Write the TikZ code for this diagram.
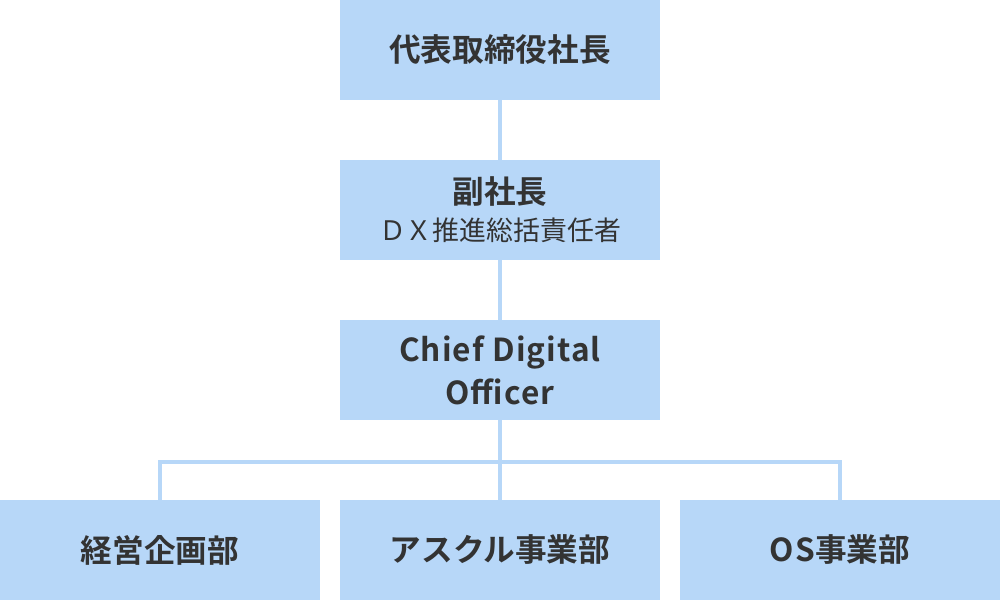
\documentclass[tikz,border=0pt]{standalone}
\usepackage{fontspec}
\setmainfont{Noto Sans CJK JP}[BoldFont={Noto Sans CJK JP Bold}]
\newfontfamily\latinwide{Noto Sans CJK JP}[BoldFont={Noto Sans CJK JP Bold}, LetterSpace=3.5]
\definecolor{boxblue}{HTML}{B7D7F8}
\definecolor{textgray}{HTML}{333333}
\tikzset{
  orgbox/.style={fill=boxblue, minimum width=6.4cm, minimum height=2cm,
    inner sep=0pt, outer sep=0pt, align=center, text=textgray,
    font=\fontsize{18}{23}\selectfont\bfseries},
  orgline/.style={draw=boxblue, line width=2.3pt}
}
\begin{document}
\begin{tikzpicture}
    \useasboundingbox (0,0) rectangle (20,12);

    % top rows
    \node[orgbox] (ceo) at (10,11) {代表取締役社長};
    \node[orgbox] (vp) at (10,7.8) {副社長\\[-2pt]{\fontsize{15.3}{19}\selectfont\mdseries ＤＸ推進総括責任者}};
    \node[orgbox, font=\fontsize{18}{24.5}\selectfont\latinwide\bfseries] (cdo) at (10,4.6) {Chief Digital\\Officer};

    % departments
    \node[orgbox] (plan) at (3.2,1) {経営企画部};
    \node[orgbox] (ask) at (10,1) {アスクル事業部};
    \node[orgbox] (os) at (16.8,1) {{\latinwide OS}事業部};

    \coordinate (branch) at (10,2.76);

    \draw[orgline] (ceo) -- (vp);
    \draw[orgline] (vp) -- (cdo);
    \draw[orgline] (cdo) -- (ask);
    \draw[orgline] (plan.north) |- (branch) -| (os.north);
\end{tikzpicture}
\end{document}
